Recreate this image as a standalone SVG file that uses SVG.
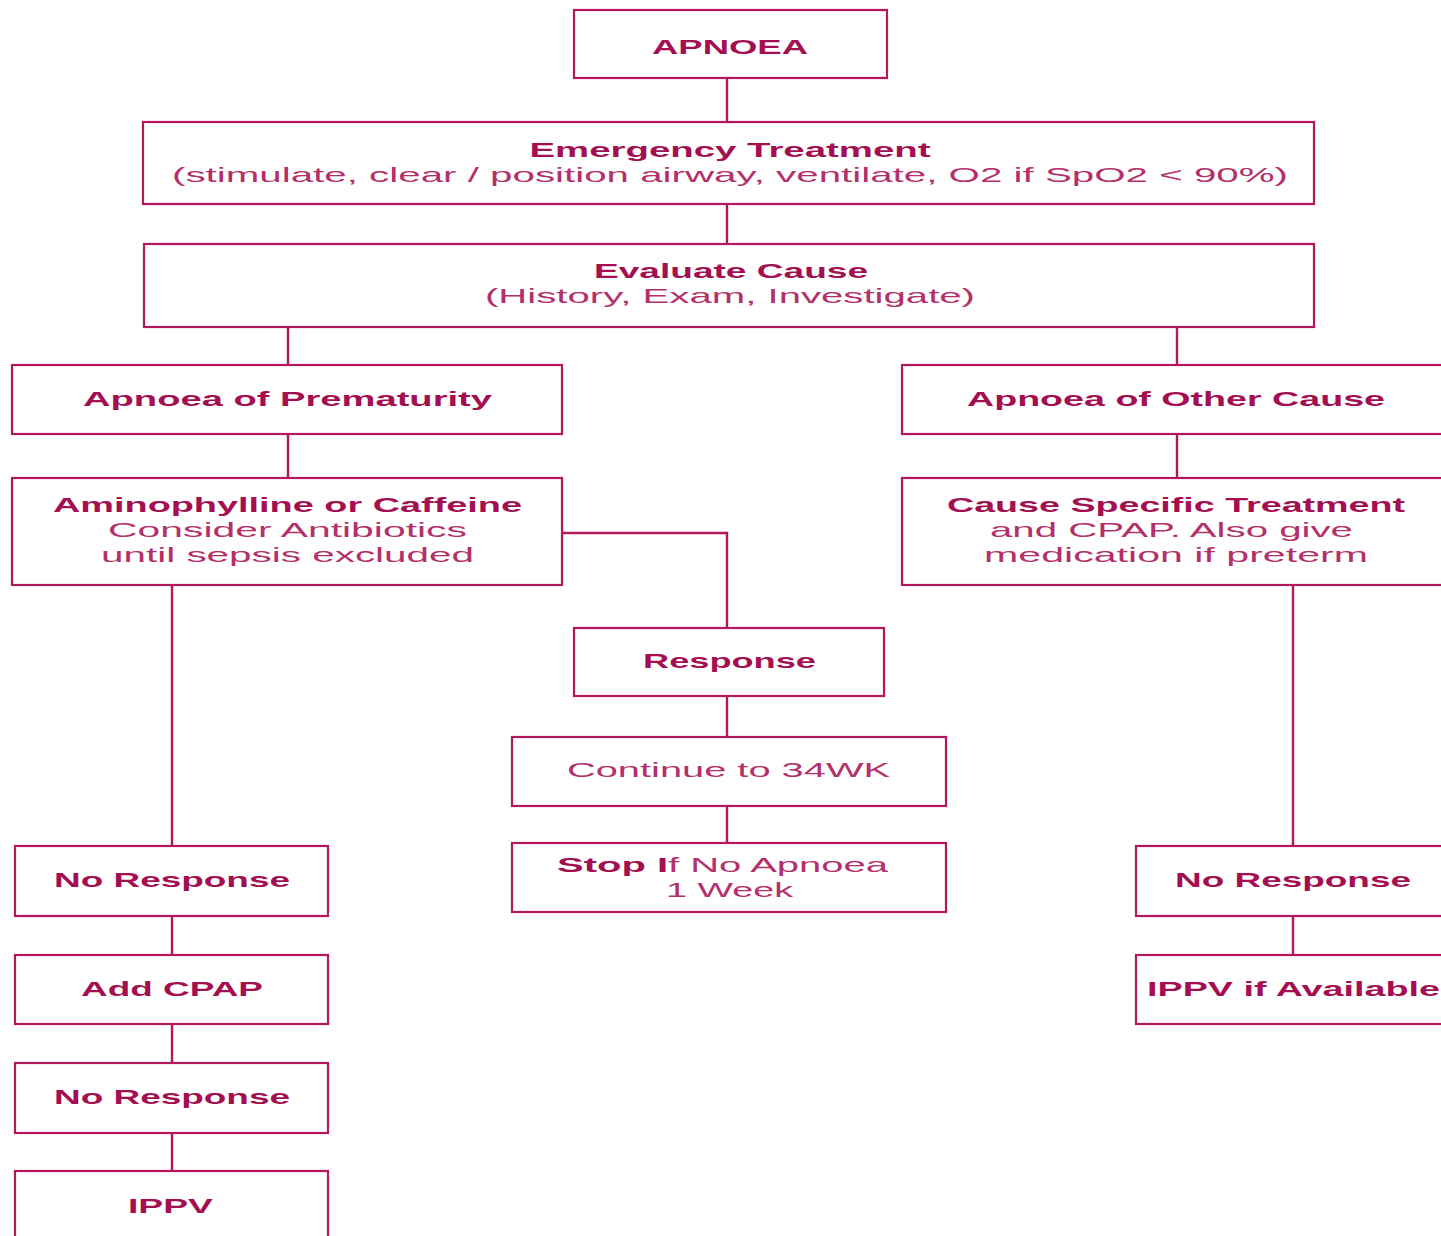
<svg xmlns="http://www.w3.org/2000/svg" width="1441" height="1236" viewBox="0 0 1441 1236">
<style>
.box{fill:#fff;stroke:#b3185c;stroke-width:2.2}
.con{fill:none;stroke:#b3185c;stroke-width:2.4}
text{font-family:"Liberation Sans","DejaVu Sans",Arial,sans-serif;font-size:21px;text-anchor:middle}
.b{font-weight:bold;fill:#a30f50}
.n{font-weight:normal;fill:#b3306a}
</style>
<rect width="1441" height="1236" fill="#fff"/>
<g id="connectors">
<line class="con" x1="727" y1="78" x2="727" y2="122"/>
<line class="con" x1="727" y1="204" x2="727" y2="244"/>
<line class="con" x1="288" y1="327" x2="288" y2="365"/>
<line class="con" x1="1177" y1="327" x2="1177" y2="365"/>
<line class="con" x1="288" y1="434" x2="288" y2="478"/>
<line class="con" x1="1177" y1="434" x2="1177" y2="478"/>
<polyline class="con" points="562,533 727,533 727,628"/>
<line class="con" x1="727" y1="696" x2="727" y2="737"/>
<line class="con" x1="727" y1="806" x2="727" y2="843"/>
<line class="con" x1="172" y1="585" x2="172" y2="846"/>
<line class="con" x1="172" y1="916" x2="172" y2="955"/>
<line class="con" x1="172" y1="1024" x2="172" y2="1063"/>
<line class="con" x1="172" y1="1133" x2="172" y2="1171"/>
<line class="con" x1="1293" y1="585" x2="1293" y2="846"/>
<line class="con" x1="1293" y1="916" x2="1293" y2="955"/>
</g>
<g id="apnoea">
<rect class="box" x="574" y="10" width="313" height="68"/>
<text class="b" x="730" y="54" textLength="156" lengthAdjust="spacingAndGlyphs">APNOEA</text>
</g>
<g id="emergency">
<rect class="box" x="143" y="122" width="1171" height="82"/>
<text class="b" x="730" y="157" textLength="401" lengthAdjust="spacingAndGlyphs">Emergency Treatment</text>
<text class="n" x="730" y="182" textLength="1116" lengthAdjust="spacingAndGlyphs">(stimulate, clear / position airway, ventilate, O2 if SpO2 &lt; 90%)</text>
</g>
<g id="evaluate">
<rect class="box" x="144" y="244" width="1170" height="83"/>
<text class="b" x="731" y="278" textLength="274" lengthAdjust="spacingAndGlyphs">Evaluate Cause</text>
<text class="n" x="730" y="303" textLength="490" lengthAdjust="spacingAndGlyphs">(History, Exam, Investigate)</text>
</g>
<g id="prematurity">
<rect class="box" x="12" y="365" width="550" height="69"/>
<text class="b" x="287.5" y="406" textLength="409" lengthAdjust="spacingAndGlyphs">Apnoea of Prematurity</text>
</g>
<g id="other-cause">
<rect class="box" x="902" y="365" width="560" height="69"/>
<text class="b" x="1176" y="406" textLength="418" lengthAdjust="spacingAndGlyphs">Apnoea of Other Cause</text>
</g>
<g id="aminophylline">
<rect class="box" x="12" y="478" width="550" height="107"/>
<text class="b" x="287.5" y="512" textLength="469" lengthAdjust="spacingAndGlyphs">Aminophylline or Caffeine</text>
<text class="n" x="287.5" y="537" textLength="359" lengthAdjust="spacingAndGlyphs">Consider Antibiotics</text>
<text class="n" x="287.5" y="562" textLength="373" lengthAdjust="spacingAndGlyphs">until sepsis excluded</text>
</g>
<g id="cause-specific">
<rect class="box" x="902" y="478" width="560" height="107"/>
<text class="b" x="1176" y="512" textLength="458" lengthAdjust="spacingAndGlyphs">Cause Specific Treatment</text>
<text class="n" x="1171.5" y="537" textLength="363" lengthAdjust="spacingAndGlyphs">and CPAP. Also give</text>
<text class="n" x="1176" y="562" textLength="384" lengthAdjust="spacingAndGlyphs">medication if preterm</text>
</g>
<g id="response">
<rect class="box" x="574" y="628" width="310" height="68"/>
<text class="b" x="729.5" y="668" textLength="173" lengthAdjust="spacingAndGlyphs">Response</text>
</g>
<g id="continue">
<rect class="box" x="512" y="737" width="434" height="69"/>
<text class="n" x="728.5" y="777" textLength="323" lengthAdjust="spacingAndGlyphs">Continue to 34WK</text>
</g>
<g id="stop">
<rect class="box" x="512" y="843" width="434" height="69"/>
<text class="b" x="722.5" y="872" textLength="331" lengthAdjust="spacingAndGlyphs">Stop I<tspan class="n">f No Apnoea</tspan></text>
<text class="n" x="729.5" y="897" textLength="127" lengthAdjust="spacingAndGlyphs">1 Week</text>
</g>
<g id="no-response-1">
<rect class="box" x="15" y="846" width="313" height="70"/>
<text class="b" x="172" y="887" textLength="236" lengthAdjust="spacingAndGlyphs">No Response</text>
</g>
<g id="add-cpap">
<rect class="box" x="15" y="955" width="313" height="69"/>
<text class="b" x="172" y="996" textLength="182" lengthAdjust="spacingAndGlyphs">Add CPAP</text>
</g>
<g id="no-response-2">
<rect class="box" x="15" y="1063" width="313" height="70"/>
<text class="b" x="172" y="1104" textLength="236" lengthAdjust="spacingAndGlyphs">No Response</text>
</g>
<g id="ippv">
<rect class="box" x="15" y="1171" width="313" height="80"/>
<text class="b" x="170.5" y="1213" textLength="85" lengthAdjust="spacingAndGlyphs">IPPV</text>
</g>
<g id="no-response-3">
<rect class="box" x="1136" y="846" width="320" height="70"/>
<text class="b" x="1293" y="887" textLength="236" lengthAdjust="spacingAndGlyphs">No Response</text>
</g>
<g id="ippv-available">
<rect class="box" x="1136" y="955" width="320" height="69"/>
<text class="b" x="1293.5" y="996" textLength="293" lengthAdjust="spacingAndGlyphs">IPPV if Available</text>
</g>
</svg>
